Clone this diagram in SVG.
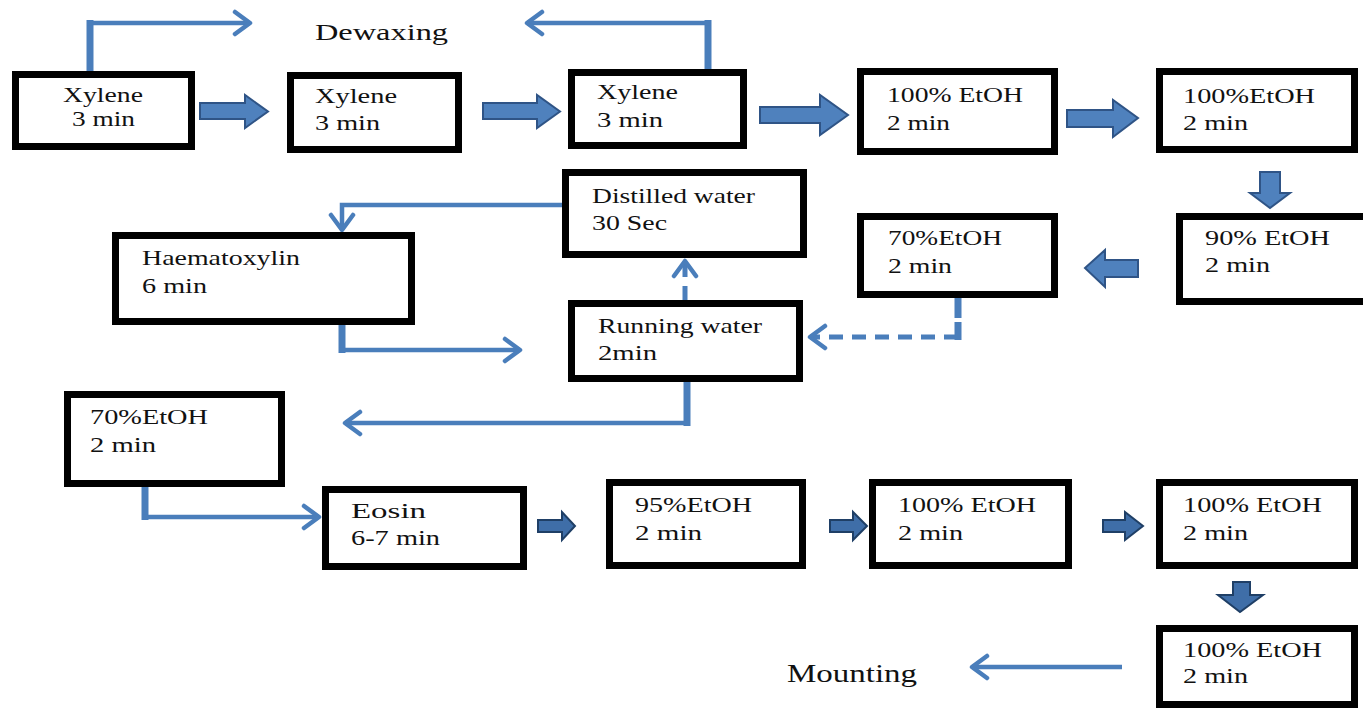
<svg xmlns="http://www.w3.org/2000/svg" width="1363" height="710" viewBox="0 0 1363 710">
<style>
.box{fill:#fff;stroke:#000;stroke-width:7}
.t{font-family:"Liberation Serif","Times New Roman",serif;font-size:22px;fill:#111}
.lbl{font-family:"Liberation Serif","Times New Roman",serif;fill:#111}
.big{fill:#4f81bd;stroke:#2f5486;stroke-width:2}
.sm{fill:#3f6ea8;stroke:#1f3f66;stroke-width:2}
.thin{fill:none;stroke:#4a7ebb;stroke-width:4.5;stroke-linejoin:miter}
.thick{fill:none;stroke:#4a7ebb;stroke-width:7}
.dash{fill:none;stroke:#4a7ebb;stroke-width:5;stroke-dasharray:14 9}
</style>
<defs>
<marker id="oa" viewBox="-20 -14 24 28" refX="0" refY="0" markerWidth="24" markerHeight="28" markerUnits="userSpaceOnUse" orient="auto">
<path d="M-15,-11 L0,0 L-15,11" fill="none" stroke="#4a7ebb" stroke-width="4.5" stroke-linecap="round" stroke-linejoin="round"/>
</marker>
</defs>
<g id="labels">
<text class="lbl" x="315" y="40" font-size="24" textLength="133" lengthAdjust="spacingAndGlyphs">Dewaxing</text>
<text class="lbl" x="787" y="682" font-size="26" textLength="130" lengthAdjust="spacingAndGlyphs">Mounting</text>
</g>
<g id="connectors">
<path class="thick" d="M90,71 V20"/>
<path class="thin" d="M87,23 H250" marker-end="url(#oa)"/>
<path class="thick" d="M708,69 V20"/>
<path class="thin" d="M711,23 H527" marker-end="url(#oa)"/>
<path class="thin" d="M562,205 H342 V230" marker-end="url(#oa)"/>
<path class="thick" d="M342,325 V353"/>
<path class="thin" d="M339,350 H520" marker-end="url(#oa)"/>
<path class="dash" d="M685,300 V261" marker-end="url(#oa)"/>
<path class="thick" d="M958,298 V340" stroke-dasharray="20 4"/>
<path class="dash" d="M958,337 H810" marker-end="url(#oa)"/>
<path class="thick" d="M687,382 V426"/>
<path class="thin" d="M690,423 H345" marker-end="url(#oa)"/>
<path class="thick" d="M145,487 V520"/>
<path class="thin" d="M142,517 H319" marker-end="url(#oa)"/>
<path class="thin" d="M1122,667 H972" marker-end="url(#oa)"/>
<polygon class="big" points="200,103 245,103 245,95 268,111.5 245,128 245,119 200,119"/>
<polygon class="big" points="483,103 537,103 537,95 560,111.5 537,128 537,119 483,119"/>
<polygon class="big" points="760,107 820,107 820,95 848,115 820,135 820,123 760,123"/>
<polygon class="big" points="1067,110 1113,110 1113,100 1138,118 1113,137 1113,127 1067,127"/>
<polygon class="big" points="1260,172 1280,172 1280,193 1290,193 1270,208 1250,193 1260,193"/>
<polygon class="big" points="1138,260 1105,260 1105,250 1085,268 1105,287 1105,277 1138,277"/>
<polygon class="sm" points="538,520 562,520 562,512 575,526 562,540 562,532 538,532"/>
<polygon class="sm" points="830,520 853,520 853,512 867,526 853,540 853,532 830,532"/>
<polygon class="sm" points="1103,520 1125,520 1125,512 1143,526 1125,540 1125,532 1103,532"/>
<polygon class="sm" points="1233,582 1250,582 1250,595 1263,595 1240,612 1218,595 1233,595"/>
</g>
<g id="n1"><rect class="box" x="15.5" y="74.5" width="176" height="72"/><text class="t" x="63" y="102" textLength="80" lengthAdjust="spacingAndGlyphs">Xylene</text><text class="t" x="72" y="126" textLength="63" lengthAdjust="spacingAndGlyphs">3 min</text></g>
<g id="n2"><rect class="box" x="290.5" y="75.5" width="168" height="74"/><text class="t" x="315" y="103" textLength="82" lengthAdjust="spacingAndGlyphs">Xylene</text><text class="t" x="315" y="130" textLength="65" lengthAdjust="spacingAndGlyphs">3 min</text></g>
<g id="n3"><rect class="box" x="571.5" y="72.5" width="172" height="73"/><text class="t" x="597" y="99" textLength="81" lengthAdjust="spacingAndGlyphs">Xylene</text><text class="t" x="597" y="127" textLength="66" lengthAdjust="spacingAndGlyphs">3 min</text></g>
<g id="n4"><rect class="box" x="860.5" y="71.5" width="194" height="80"/><text class="t" x="887" y="102" textLength="136" lengthAdjust="spacingAndGlyphs">100% EtOH</text><text class="t" x="887" y="130" textLength="63" lengthAdjust="spacingAndGlyphs">2 min</text></g>
<g id="n5"><rect class="box" x="1159.5" y="71.5" width="195" height="78"/><text class="t" x="1183" y="103" textLength="132" lengthAdjust="spacingAndGlyphs">100%EtOH</text><text class="t" x="1183" y="130" textLength="65" lengthAdjust="spacingAndGlyphs">2 min</text></g>
<g id="n6"><rect class="box" x="1179.5" y="216.5" width="190" height="85"/><text class="t" x="1205" y="245" textLength="125" lengthAdjust="spacingAndGlyphs">90% EtOH</text><text class="t" x="1205" y="272" textLength="65" lengthAdjust="spacingAndGlyphs">2 min</text></g>
<g id="n7"><rect class="box" x="860.5" y="216.5" width="194" height="78"/><text class="t" x="888" y="245" textLength="114" lengthAdjust="spacingAndGlyphs">70%EtOH</text><text class="t" x="888" y="273" textLength="64" lengthAdjust="spacingAndGlyphs">2 min</text></g>
<g id="n8"><rect class="box" x="115.5" y="235.5" width="296" height="86"/><text class="t" x="142" y="265" textLength="158" lengthAdjust="spacingAndGlyphs">Haematoxylin</text><text class="t" x="142" y="293" textLength="65" lengthAdjust="spacingAndGlyphs">6 min</text></g>
<g id="n9"><rect class="box" x="565.5" y="172.5" width="238" height="82"/><text class="t" x="592" y="203" textLength="163" lengthAdjust="spacingAndGlyphs">Distilled water</text><text class="t" x="592" y="230" textLength="75" lengthAdjust="spacingAndGlyphs">30 Sec</text></g>
<g id="n10"><rect class="box" x="571.5" y="303.5" width="228" height="75"/><text class="t" x="598" y="333" textLength="164" lengthAdjust="spacingAndGlyphs">Running water</text><text class="t" x="598" y="360" textLength="59" lengthAdjust="spacingAndGlyphs">2min</text></g>
<g id="n11"><rect class="box" x="67.5" y="394.5" width="214" height="89"/><text class="t" x="90" y="424" textLength="118" lengthAdjust="spacingAndGlyphs">70%EtOH</text><text class="t" x="90" y="452" textLength="66" lengthAdjust="spacingAndGlyphs">2 min</text></g>
<g id="n12"><rect class="box" x="325.5" y="489.5" width="198" height="77"/><text class="t" x="351" y="518" textLength="75" lengthAdjust="spacingAndGlyphs">Eosin</text><text class="t" x="351" y="545" textLength="89" lengthAdjust="spacingAndGlyphs">6-7 min</text></g>
<g id="n13"><rect class="box" x="609.5" y="482.5" width="193" height="83"/><text class="t" x="635" y="512" textLength="117" lengthAdjust="spacingAndGlyphs">95%EtOH</text><text class="t" x="635" y="540" textLength="67" lengthAdjust="spacingAndGlyphs">2 min</text></g>
<g id="n14"><rect class="box" x="872.5" y="482.5" width="196" height="83"/><text class="t" x="898" y="512" textLength="138" lengthAdjust="spacingAndGlyphs">100% EtOH</text><text class="t" x="898" y="540" textLength="65" lengthAdjust="spacingAndGlyphs">2 min</text></g>
<g id="n15"><rect class="box" x="1159.5" y="482.5" width="195" height="83"/><text class="t" x="1183" y="512" textLength="139" lengthAdjust="spacingAndGlyphs">100% EtOH</text><text class="t" x="1183" y="540" textLength="65" lengthAdjust="spacingAndGlyphs">2 min</text></g>
<g id="n16"><rect class="box" x="1159.5" y="628.5" width="195" height="76"/><text class="t" x="1183" y="657" textLength="139" lengthAdjust="spacingAndGlyphs">100% EtOH</text><text class="t" x="1183" y="683" textLength="65" lengthAdjust="spacingAndGlyphs">2 min</text></g>
</svg>
